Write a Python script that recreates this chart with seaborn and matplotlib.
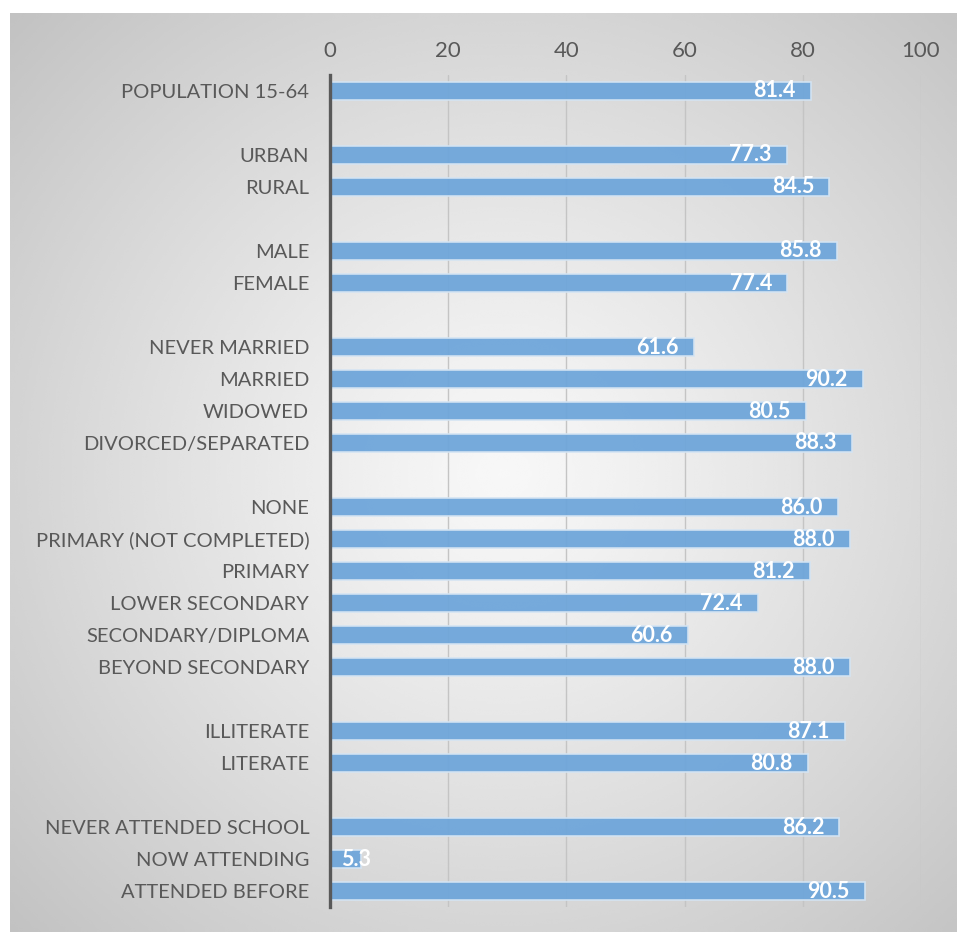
import numpy as np
import pandas as pd
import matplotlib
matplotlib.use("Agg")
import matplotlib.pyplot as plt
import seaborn as sns

# Share (%) by population group
groups = [
    ["POPULATION 15-64"],
    ["URBAN", "RURAL"],
    ["MALE", "FEMALE"],
    ["NEVER MARRIED", "MARRIED", "WIDOWED", "DIVORCED/SEPARATED"],
    ["NONE", "PRIMARY (NOT COMPLETED)", "PRIMARY", "LOWER SECONDARY",
     "SECONDARY/DIPLOMA", "BEYOND SECONDARY"],
    ["ILLITERATE", "LITERATE"],
    ["NEVER ATTENDED SCHOOL", "NOW ATTENDING", "ATTENDED BEFORE"],
]
values = [
    [81.4],
    [77.3, 84.5],
    [85.8, 77.4],
    [61.6, 90.2, 80.5, 88.3],
    [86.0, 88.0, 81.2, 72.4, 60.6, 88.0],
    [87.1, 80.8],
    [86.2, 5.3, 90.5],
]
x_ticks = [0, 20, 40, 60, 80, 100]

sns.set_theme(style="white")
plt.rcParams["font.family"] = ["Lato", "DejaVu Sans"]

categories = [c for g in groups for c in g]
vals = [v for g in values for v in g]
df = pd.DataFrame({"group": categories, "value": vals})

# category order with empty spacer slots between groups
order = []
for i, g in enumerate(groups):
    if i > 0:
        order.append(" " * i)
    order.extend(g)

fig = plt.figure(figsize=(9.57, 9.32), dpi=100)
W, H = 957, 932

# radial grey backdrop panel
bg = fig.add_axes([10 / W, 0, 1 - 10 / W, 1 - 13 / H], zorder=-10)
ny, nx = 400, 420
yy, xx = np.mgrid[0:ny, 0:nx]
cx, cy = nx * 0.52, ny * 0.50
r = np.sqrt(((xx - cx) / nx) ** 2 + ((yy - cy) / ny) ** 2)
r = r / r.max()
shade = 0.97 - 0.21 * r ** 1.2
bg.imshow(shade, cmap="gray", vmin=0, vmax=1, aspect="auto",
          interpolation="bicubic")
bg.axis("off")

ax = fig.add_axes([330 / W, (H - 907) / H, (921 - 330) / W, (907 - 75) / H])
ax.set_facecolor("none")

sns.barplot(data=df, x="value", y="group", order=order, orient="h",
            color="#6fa6da", width=0.56, saturation=1, ax=ax,
            edgecolor="#d4e4f3", linewidth=1.2, alpha=0.95, zorder=3)

ax.set_xlim(0, 100)
ax.set_ylim(len(order) - 0.5, -0.5)
ax.set_xticks(x_ticks)
ax.xaxis.tick_top()
ax.tick_params(axis="x", length=0, pad=10, labelsize=16, labelcolor="#595959")
ax.tick_params(axis="y", length=0, pad=15, labelsize=14.5, labelcolor="#595959")
ax.set_yticks(range(len(order)))
ax.set_yticklabels([o if o.strip() else "" for o in order])
ax.set_xlabel("")
ax.set_ylabel("")

ax.grid(axis="x", color="#c4c4c4", linewidth=1.0, zorder=1)
ax.set_axisbelow(True)
for s in ["top", "right", "bottom"]:
    ax.spines[s].set_visible(False)
ax.spines["left"].set_color("#595959")
ax.spines["left"].set_linewidth(2.4)
ax.spines["left"].set_zorder(5)

# value labels at the inner end of each bar
for c, v in zip(categories, vals):
    yi = order.index(c)
    if v < 15:
        ax.annotate(f"{v:.1f}", (0, yi), xytext=(8, 0), textcoords="offset points",
                    ha="left", va="center", color="white", fontsize=15.5,
                    fontweight="bold", zorder=6)
    else:
        ax.annotate(f"{v:.1f}", (v, yi), xytext=(-11, 0), textcoords="offset points",
                    ha="right", va="center", color="white", fontsize=15.5,
                    fontweight="bold", zorder=6)

fig.savefig("out.png", dpi=100)
